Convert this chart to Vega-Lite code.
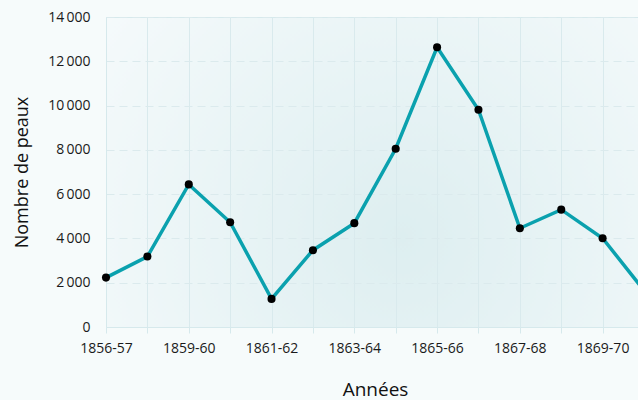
{
  "$schema": "https://vega.github.io/schema/vega-lite/v6.json",
  "width": 538,
  "height": 310,
  "autosize": {"type": "none"},
  "padding": {"left": 106, "top": 17, "right": 0, "bottom": 73},
  "background": "#f6fbfb",
  "config": {
    "font": "Open Sans",
    "view": {
      "stroke": "#d6e9ec",
      "fill": {
        "gradient": "radial",
        "x1": 0.55, "y1": 0.62, "r1": 0,
        "x2": 0.55, "y2": 0.62, "r2": 0.75,
        "stops": [
          {"offset": 0, "color": "#ddeef0"},
          {"offset": 1, "color": "#f7fbfc"}
        ]
      }
    }
  },
  "data": {
    "values": [
      {"annee": "1856-57", "peaux": 2230},
      {"annee": "1857-58", "peaux": 3180},
      {"annee": "1859-60", "peaux": 6440},
      {"annee": "1860-61", "peaux": 4730},
      {"annee": "1861-62", "peaux": 1270},
      {"annee": "1862-63", "peaux": 3470},
      {"annee": "1863-64", "peaux": 4690},
      {"annee": "1864-65", "peaux": 8050},
      {"annee": "1865-66", "peaux": 12630},
      {"annee": "1866-67", "peaux": 9810},
      {"annee": "1867-68", "peaux": 4460},
      {"annee": "1868-69", "peaux": 5300},
      {"annee": "1869-70", "peaux": 4010},
      {"annee": "1870-71", "peaux": 1650}
    ]
  },
  "encoding": {
    "x": {
      "field": "annee",
      "type": "ordinal",
      "sort": null,
      "scale": {"type": "point", "padding": 0},
      "axis": {
        "title": "Années",
        "labelAngle": 0,
        "labelOverlap": false,
        "labelExpr": "indexof(['1856-57','1859-60','1861-62','1863-64','1865-66','1867-68','1869-70'], datum.value) >= 0 ? datum.value : ''",
        "labelFontSize": 14,
        "labelColor": "#1a1a1a",
        "labelPadding": 8,
        "tickSize": 6,
        "tickColor": "#d6e9ec",
        "domainColor": "#d6e9ec",
        "grid": true,
        "gridColor": "#d9eaed",
        "titleFontSize": 19,
        "titleFontWeight": "normal",
        "titleColor": "#111111",
        "titlePadding": 25
      }
    },
    "y": {
      "field": "peaux",
      "type": "quantitative",
      "scale": {"domain": [0, 14000]},
      "axis": {
        "title": "Nombre de peaux",
        "values": [0, 2000, 4000, 6000, 8000, 10000, 12000, 14000],
        "labelExpr": "replace(format(datum.value, ','), ',', '\u2009')",
        "ticks": false,
        "labelFontSize": 14,
        "labelColor": "#1a1a1a",
        "labelPadding": 16,
        "domainColor": "#d6e9ec",
        "gridColor": "#dbeaed",
        "gridDash": [8, 5],
        "titleFontSize": 18,
        "titleFontWeight": "normal",
        "titleColor": "#111111",
        "titlePadding": 16
      }
    }
  },
  "layer": [
    {"mark": {"type": "line", "color": "#0aa1ae", "strokeWidth": 3.5}},
    {"mark": {"type": "point", "filled": true, "color": "#000000", "opacity": 1, "size": 65}}
  ]
}
